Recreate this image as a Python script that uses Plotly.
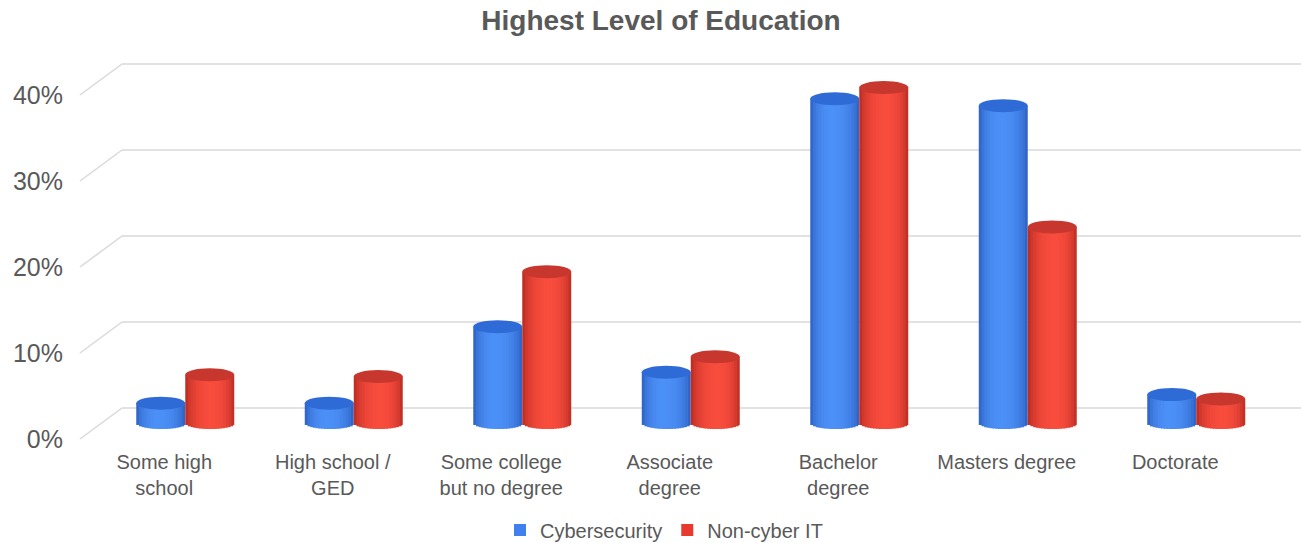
import plotly.graph_objects as go
import math

# ---- data -------------------------------------------------------------
categories = ["Some high school", "High school / GED", "Some college but no degree",
              "Associate degree", "Bachelor degree", "Masters degree", "Doctorate"]
tick_labels = ["Some high<br>school", "High school /<br>GED", "Some college<br>but no degree",
               "Associate<br>degree", "Bachelor<br>degree", "Masters degree", "Doctorate"]
cyber = [2.3, 2.3, 11.2, 5.9, 37.7, 36.9, 3.3]
non_cyber = [5.6, 5.4, 17.6, 7.7, 39.0, 22.8, 2.8]
y_ticks = [0, 10, 20, 30, 40]
y_tick_text = ["0%", "10%", "20%", "30%", "40%"]

# ---- geometry (pseudo-3D column chart) ---------------------------------
W, H = 1301, 543
ML, MR, MT, MB = 80, 0, 40, 93
plot_w = W - ML - MR
plot_h = H - MT - MB
cat_px = 168.5                 # pixels per category on the front plane
px_per_unit = 8.6              # pixels per percentage point
zero_px = 423                  # baseline of the columns (mid depth), from top
x_lo = -0.5
x_hi = x_lo + plot_w / cat_px
y_hi = (zero_px - MT) / px_per_unit
y_lo = (zero_px - (H - MB)) / px_per_unit
front_shift = 16 / px_per_unit     # front plane sits below the column baseline
depth_rise = 31 / px_per_unit      # front -> back wall vertical offset
depth_dx = 42 / plot_w             # front -> back wall horizontal offset (paper)
mid_shift = 21 / cat_px            # columns sit halfway into the depth
col_w = 49 / cat_px                # cylinder diameter
cap_h = 6.5 / px_per_unit          # half height of the elliptic cap
bot_h = 6 / px_per_unit

n_strips = 18
grid_color = "#d9d9d9"
text_color = "#595959"


def lerp(c1, c2, t):
    a = [int(c1[i:i + 2], 16) for i in (1, 3, 5)]
    b = [int(c2[i:i + 2], 16) for i in (1, 3, 5)]
    return "#" + "".join(f"{round(a[k] + (b[k] - a[k]) * t):02x}" for k in range(3))


series = [
    dict(name="Cybersecurity", values=cyber, edge="#2857b8", light="#4b90f7",
         cap="#2f6bd6", peak=0.45, legend="#3f80ee", start=mid_shift - col_w),
    dict(name="Non-cyber IT", values=non_cyber, edge="#ad261e", light="#f84c3d",
         cap="#c8372d", peak=0.55, legend="#e8392e", start=mid_shift),
]

fig = go.Figure()
shapes = []

# perspective gridlines: short diagonal on the side wall + back wall line
for v in y_ticks:
    shapes.append(dict(type="line", xref="paper", yref="y2", x0=0, x1=depth_dx,
                       y0=v, y1=v + depth_rise,
                       line=dict(color=grid_color, width=1.5), layer="below"))
    shapes.append(dict(type="line", xref="paper", yref="y2", x0=depth_dx, x1=1,
                       y0=v + depth_rise, y1=v + depth_rise,
                       line=dict(color=grid_color, width=1.5), layer="below"))

xs = list(range(len(categories)))
for s in series:
    sw = col_w / n_strips
    for k in range(n_strips):
        t = (k + 0.5) / n_strips
        # shading across the cylinder, brightest near the peak position
        d = (t - s["peak"]) / (1 - s["peak"] if t > s["peak"] else s["peak"])
        shade = max(0.0, 1 - d * d) ** 0.6
        color = lerp(s["edge"], s["light"], shade)
        u = 2 * t - 1
        b = bot_h * math.sqrt(max(0.0, 1 - u * u))
        last = k == n_strips - 1
        fig.add_trace(go.Bar(
            x=xs, y=[v + b for v in s["values"]], base=-b,
            offset=s["start"] + k * sw, width=sw * (1.0 if last else 1.6),
            marker=dict(color=color, line=dict(width=0)),
            name=s["name"], showlegend=False, hoverinfo="skip",
        ))
    # legend entry for the series
    fig.add_trace(go.Bar(x=[None], y=[None], name=s["name"],
                         marker=dict(color=s["legend"], line=dict(width=0))))
    # elliptic top caps
    for i, v in enumerate(s["values"]):
        x0 = i + s["start"]
        shapes.append(dict(type="circle", xref="x", yref="y",
                           x0=x0, x1=x0 + col_w, y0=v - cap_h, y1=v + cap_h,
                           fillcolor=s["cap"], line=dict(width=0), layer="above"))

fig.update_layout(
    width=W, height=H,
    margin=dict(l=ML, r=MR, t=MT, b=MB),
    paper_bgcolor="white", plot_bgcolor="white",
    barmode="overlay",
    font=dict(family="Liberation Sans, Arial, sans-serif", color=text_color),
    title=dict(text="<b>Highest Level of Education</b>", x=661 / W, xanchor="center",
               y=1 - 20 / H, yanchor="middle", yref="container",
               font=dict(size=28, color=text_color)),
    xaxis=dict(range=[x_lo, x_hi], tickvals=xs, ticktext=tick_labels,
               showgrid=False, zeroline=False, showline=False, ticks="",
               ticklabelstandoff=-2,
               tickfont=dict(size=20, color=text_color), fixedrange=True),
    yaxis=dict(range=[y_lo, y_hi], showgrid=False, zeroline=False,
               showticklabels=False, showline=False, ticks="", fixedrange=True),
    yaxis2=dict(range=[y_lo + front_shift, y_hi + front_shift], overlaying="y",
                side="left", anchor="x", tickvals=y_ticks, ticktext=y_tick_text,
                showgrid=False, zeroline=False, showline=False, ticks="",
                ticklabelstandoff=16,
                tickfont=dict(size=25, color=text_color), fixedrange=True),
    legend=dict(orientation="h", xref="container", yref="container",
                x=664 / W, xanchor="center", y=1 - 530 / H, yanchor="middle",
                font=dict(size=20, color=text_color), traceorder="normal"),
    shapes=shapes,
    showlegend=True,
)

fig.write_html("out.html")
